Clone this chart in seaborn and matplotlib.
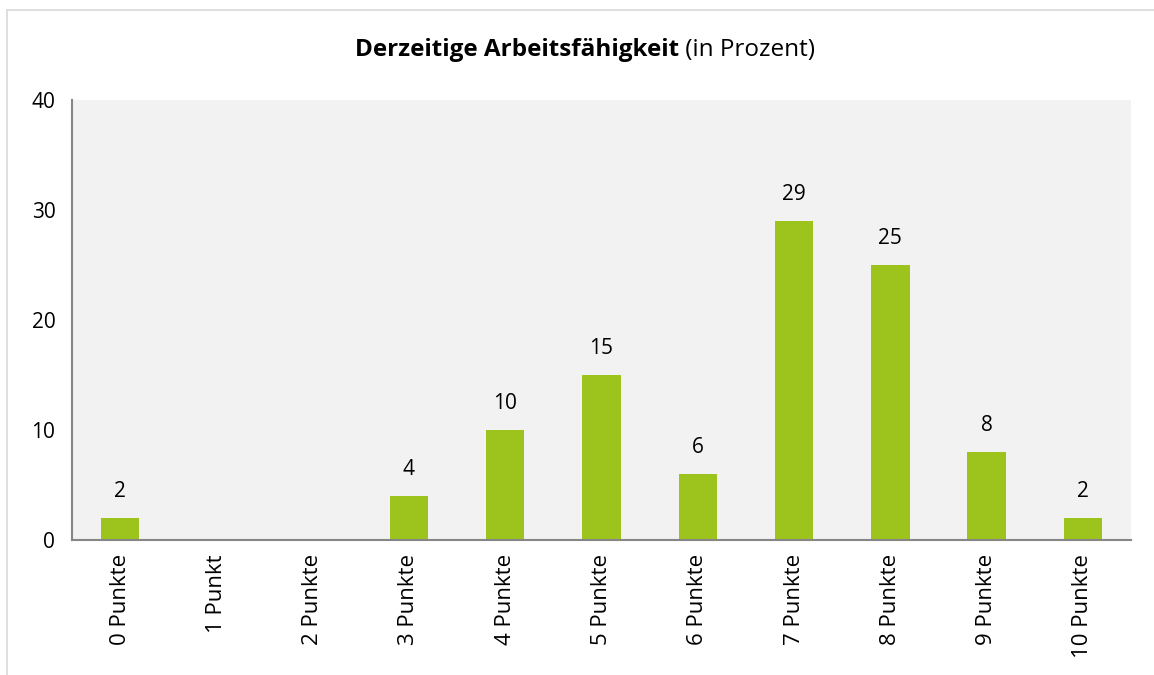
import numpy as np
import pandas as pd
import matplotlib
matplotlib.use('Agg')
import matplotlib.pyplot as plt
import seaborn as sns
from matplotlib.lines import Line2D

categories = ['0 Punkte', '1 Punkt', '2 Punkte', '3 Punkte', '4 Punkte', '5 Punkte',
              '6 Punkte', '7 Punkte', '8 Punkte', '9 Punkte', '10 Punkte']
prozent = [2, 0, 0, 4, 10, 15, 6, 29, 25, 8, 2]

df = pd.DataFrame({'kategorie': categories, 'prozent': prozent})

sns.set_style('white')
plt.rcParams['font.family'] = ['Open Sans', 'DejaVu Sans']
plt.rcParams['text.color'] = 'black'

fig = plt.figure(figsize=(11.54, 6.75), dpi=100)
ax = fig.add_axes([72/1154, 135/675, (1131-72)/1154, 440/675])
ax.set_facecolor('#F2F2F2')

sns.barplot(data=df, x='kategorie', y='prozent', color='#9CC41C', saturation=1,
            width=0.4, linewidth=0, ax=ax)

# Werte über den Balken
for i, v in enumerate(prozent):
    if v > 0:
        ax.annotate(str(v), (i, v), xytext=(0, 19), textcoords='offset points',
                    ha='center', va='center', fontsize=15, color='black')

ax.set_ylim(0, 40)
ax.set_xlim(-0.5, len(categories) - 0.5)
ax.set_yticks([0, 10, 20, 30, 40])
ax.set_xlabel('')
ax.set_ylabel('')

# Achsen wie in Excel
for s in ['top', 'right']:
    ax.spines[s].set_visible(False)
for s in ['left', 'bottom']:
    ax.spines[s].set_color('#868686')
    ax.spines[s].set_linewidth(1.5)

ax.set_xticks(np.arange(len(categories)))
ax.set_xticklabels(categories, rotation=90, fontsize=16, color='black')
ax.tick_params(axis='x', length=0, pad=10)
ax.set_xticks(np.arange(-0.5, len(categories), 1), minor=True)
ax.tick_params(axis='x', which='minor', length=7, width=1.5, color='#868686', direction='out')
ax.tick_params(axis='y', length=5, width=1.5, color='#868686', direction='out',
               labelsize=15, labelcolor='black', pad=7)

# Titel: fett + normal
t1 = fig.text(0, 625/675, 'Derzeitige Arbeitsfähigkeit', fontsize=17.5, fontweight='bold',
              ha='left', va='center', color='black')
t2 = fig.text(0, 625/675, ' (in Prozent)', fontsize=17.5, ha='left', va='center',
              color='black')
fig.canvas.draw()
r = fig.canvas.get_renderer()
w1 = t1.get_window_extent(r).width
w2 = t2.get_window_extent(r).width
x0 = (fig.bbox.width - w1 - w2) / 2 + 8
t1.set_x(x0 / fig.bbox.width)
t2.set_x((x0 + w1) / fig.bbox.width)

# Rahmen des Diagramms
fig.add_artist(Line2D([7/1154, 1], [1 - 10/675, 1 - 10/675], transform=fig.transFigure,
                      color='#D9D9D9', lw=1.2))
fig.add_artist(Line2D([7/1154, 7/1154], [0, 1 - 10/675], transform=fig.transFigure,
                      color='#D9D9D9', lw=1.2))

plt.savefig('out.png', dpi=100)
